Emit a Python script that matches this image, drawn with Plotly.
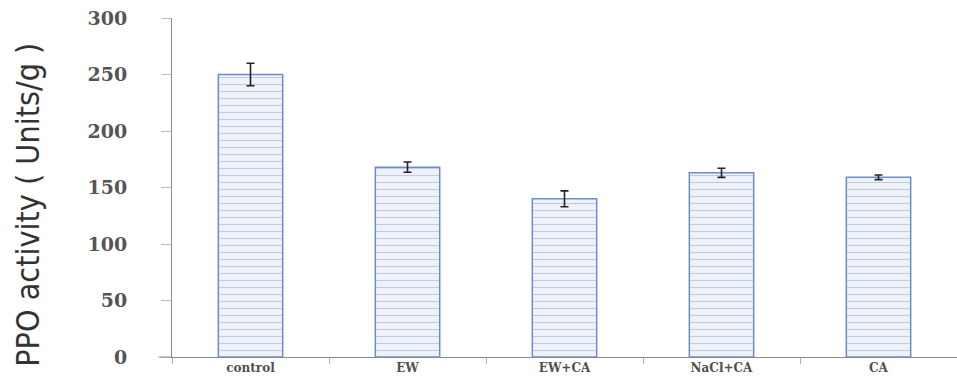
import plotly.graph_objects as go

# PPO activity by treatment
treatments = ["control", "EW", "EW+CA", "NaCl+CA", "CA"]
ppo_activity = [250, 168, 140, 163, 159]
ppo_error = [10, 4.5, 7, 4, 2]
y_ticks = [0, 50, 100, 150, 200, 250, 300]

fig = go.Figure()
fig.add_trace(go.Bar(
    x=treatments,
    y=ppo_activity,
    width=0.41,
    marker=dict(
        color="#eef3fb",
        line=dict(color="#6d8ccc", width=1.5),
        pattern=dict(shape="-", fgcolor="#9aa6ba", bgcolor="#eef3fb",
                     size=7, solidity=0.16, fillmode="overlay"),
    ),
    error_y=dict(type="data", array=ppo_error, visible=True,
                 color="#222222", thickness=1.6, width=4),
))

fig.update_layout(
    width=957, height=389,
    margin=dict(l=172, r=0, t=18, b=32),
    paper_bgcolor="white", plot_bgcolor="white",
    showlegend=False,
    xaxis=dict(
        showline=True, linecolor="#8a8a8a", linewidth=1,
        ticks="outside", tickson="boundaries", ticklen=6, tickcolor="#b0b0b0",
        tickfont=dict(family="DejaVu Serif", size=12, color="#505050", weight="bold"),
        showgrid=False, zeroline=False,
    ),
    yaxis=dict(
        range=[0, 300], tickvals=y_ticks,
        showline=True, linecolor="#8a8a8a", linewidth=1,
        ticks="outside", ticklen=10, tickcolor="#c0c0c0",
        ticklabelstandoff=30,
        tickfont=dict(family="DejaVu Serif", size=19, color="#555555", weight="bold"),
        showgrid=False, zeroline=False,
    ),
    annotations=[dict(
        text="PPO activity ( Units/g )",
        textangle=-90, showarrow=False,
        xref="paper", yref="paper", x=-0.183, y=0.45,
        xanchor="center", yanchor="middle",
        font=dict(family="DejaVu Sans Condensed, Liberation Sans", size=32, color="#333333"),
    )],
    shapes=[dict(
        type="line", xref="paper", yref="paper",
        x0=-0.017, x1=0, y0=0, y1=0,
        line=dict(color="#8a8a8a", width=1),
    )],
)

fig.write_html("out.html")
